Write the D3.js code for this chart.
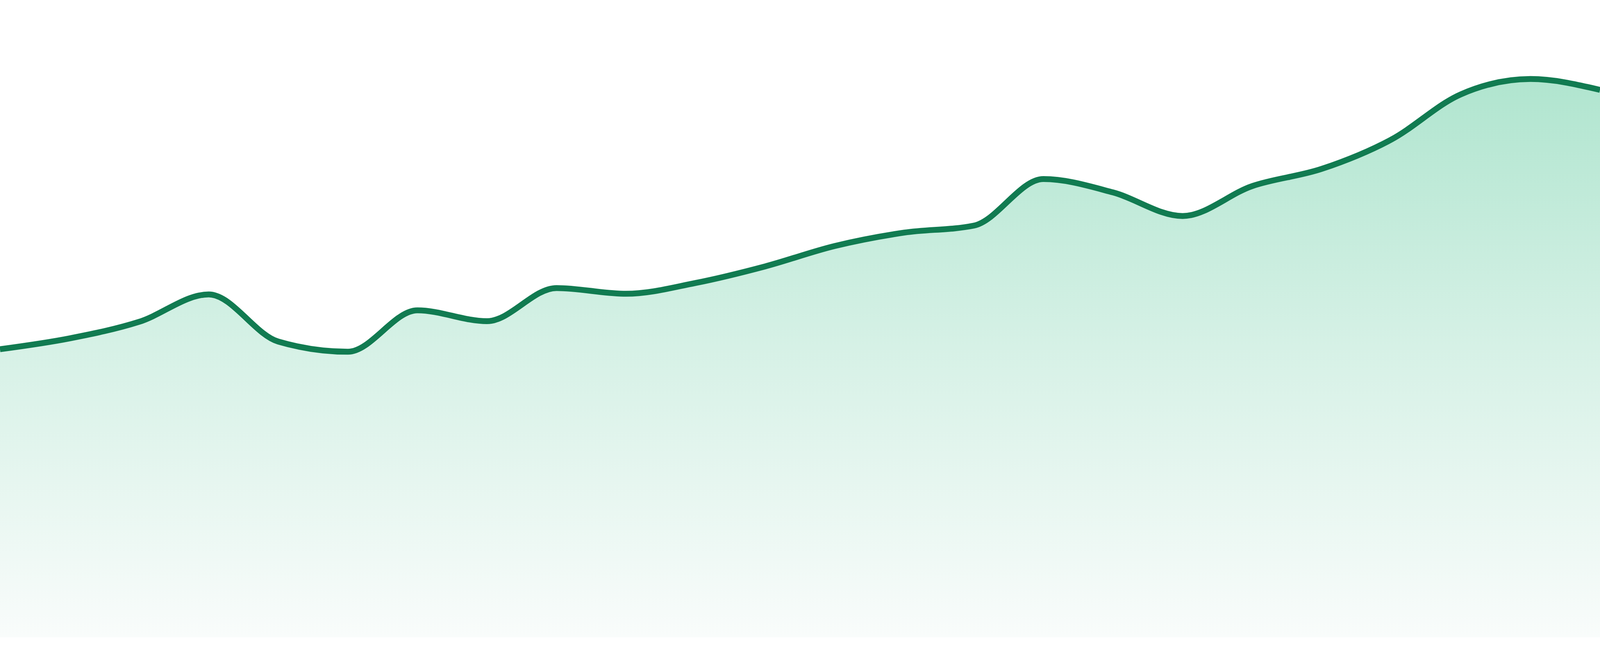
<!DOCTYPE html>
<html>
<head>
<meta charset="utf-8">
<script src="https://cdn.jsdelivr.net/npm/d3@7"></script>
<style>
  html, body { margin: 0; padding: 0; background: #fff; overflow: hidden; }
  #chart svg { display: block; }
</style>
</head>
<body>
<div id="chart"></div>
<script>
// one value per period (no axes shown)
const periods = d3.range(1, 25).map(i => "P" + i);
const values = [
  45.2, 46.9, 49.5, 53.8, 46.4, 44.8, 51.3, 49.6,
  54.8, 53.9, 55.6, 58.2, 61.4, 63.5, 64.6, 71.9,
  69.8, 66.1, 70.8, 73.5, 78.1, 85.2, 87.6, 85.9
];

// fill whatever the window gives us (chart was drawn for 4800x1680)
const width = window.innerWidth || 4800;
const height = window.innerHeight || 1680;
const margin = { top: 0, right: 0, bottom: height * 48 / 1680, left: 0 };

const data = periods.map((p, i) => ({ period: p, value: values[i] }));

const svg = d3.select("#chart").append("svg")
  .attr("width", width)
  .attr("height", height);

const innerW = width - margin.left - margin.right;
const innerH = height - margin.top - margin.bottom;

const g = svg.append("g")
  .attr("transform", `translate(${margin.left},${margin.top})`);

const x = d3.scalePoint()
  .domain(periods)
  .range([0, innerW]);

const y = d3.scaleLinear()
  .domain([0, 100])
  .range([innerH, 0]);

// soft green fade under the line
const grad = svg.append("defs").append("linearGradient")
  .attr("id", "fade")
  .attr("gradientUnits", "userSpaceOnUse")
  .attr("x1", 0).attr("x2", 0)
  .attr("y1", y(d3.max(values)))
  .attr("y2", innerH);

grad.append("stop").attr("offset", "0%").attr("stop-color", "#b0e5cf");
grad.append("stop").attr("offset", "48%").attr("stop-color", "#d6f1e6");
grad.append("stop").attr("offset", "100%").attr("stop-color", "#f9fcfb");

const area = d3.area()
  .x(d => x(d.period))
  .y0(innerH)
  .y1(d => y(d.value))
  .curve(d3.curveMonotoneX);

const line = d3.line()
  .x(d => x(d.period))
  .y(d => y(d.value))
  .curve(d3.curveMonotoneX);

g.append("path")
  .datum(data)
  .attr("fill", "url(#fade)")
  .attr("d", area);

g.append("path")
  .datum(data)
  .attr("fill", "none")
  .attr("stroke", "#117b51")
  .attr("stroke-width", 15)
  .attr("stroke-linejoin", "round")
  .attr("d", line);
</script>
</body>
</html>
